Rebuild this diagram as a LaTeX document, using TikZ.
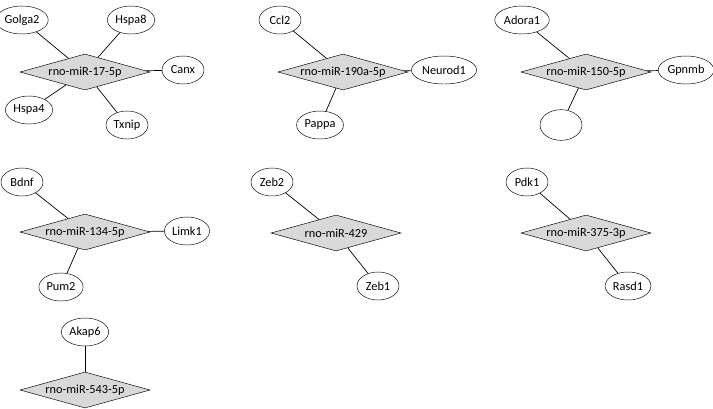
\documentclass[tikz,border=0pt]{standalone}
\usepackage{fontspec}
\setmainfont{Carlito}
\usepackage{tikz}
\usetikzlibrary{shapes.geometric}

\begin{document}
\begin{tikzpicture}[x=0.03cm, y=-0.03cm,
    mirna/.style={diamond, draw, fill=gray!30, inner sep=0pt, aspect=3.6,
        minimum width=3.9cm, minimum height=1.08cm, font=\fontsize{10.5}{12}\selectfont},
    gene/.style={ellipse, draw, inner sep=1pt, minimum width=1.26cm,
        minimum height=0.84cm, font=\fontsize{10.5}{12}\selectfont},
    link/.style={draw, line width=0.6pt}]
\useasboundingbox (0,0) rectangle (713,408);
% rno-miR-17-5p
\node[mirna] (m17) at (85,72) {rno-miR-17-5p};
\node[gene] (golga2) at (22,20) {Golga2};
\node[gene] (hspa8) at (131,20) {Hspa8};
\node[gene] (canx) at (183,70) {Canx};
\node[gene] (hspa4) at (29,110) {Hspa4};
\node[gene] (txnip) at (127,125) {Txnip};
\foreach \g in {golga2, hspa8, canx, hspa4, txnip}
    \draw[link] (m17) -- (\g);
% rno-miR-190a-5p
\node[mirna] (m190) at (343,72) {rno-miR-190a-5p};
\node[gene] (ccl2) at (280,20) {Ccl2};
\node[gene] (neurod1) at (444,70) {Neurod1};
\node[gene] (pappa) at (320,125) {Pappa};
\foreach \g in {ccl2, neurod1, pappa}
    \draw[link] (m190) -- (\g);
% rno-miR-150-5p
\node[mirna] (m150) at (586,72) {rno-miR-150-5p};
\node[gene] (adora1) at (522,20) {Adora1};
\node[gene] (gpnmb) at (686,70) {Gpnmb};
\node[gene, minimum height=0.92cm] (blank) at (561,125) {};
\foreach \g in {adora1, gpnmb, blank}
    \draw[link] (m150) -- (\g);
% rno-miR-134-5p
\node[mirna] (m134) at (85,232) {rno-miR-134-5p};
\node[gene] (bdnf) at (22,182) {Bdnf};
\node[gene] (limk1) at (187,231) {Limk1};
\node[gene] (pum2) at (61,287) {Pum2};
\foreach \g in {bdnf, limk1, pum2}
    \draw[link] (m134) -- (\g);
% rno-miR-429
\node[mirna] (m429) at (336,233) {rno-miR-429};
\node[gene] (zeb2) at (272,182) {Zeb2};
\node[gene] (zeb1) at (378,286) {Zeb1};
\foreach \g in {zeb2, zeb1}
    \draw[link] (m429) -- (\g);
% rno-miR-375-3p
\node[mirna] (m375) at (586,233) {rno-miR-375-3p};
\node[gene] (pdk1) at (527,182) {Pdk1};
\node[gene] (rasd1) at (628,286) {Rasd1};
\foreach \g in {pdk1, rasd1}
    \draw[link] (m375) -- (\g);
% rno-miR-543-5p
\node[mirna] (m543) at (85,390) {rno-miR-543-5p};
\node[gene] (akap6) at (85,332) {Akap6};
\draw[link] (m543) -- (akap6);
\end{tikzpicture}
\end{document}
